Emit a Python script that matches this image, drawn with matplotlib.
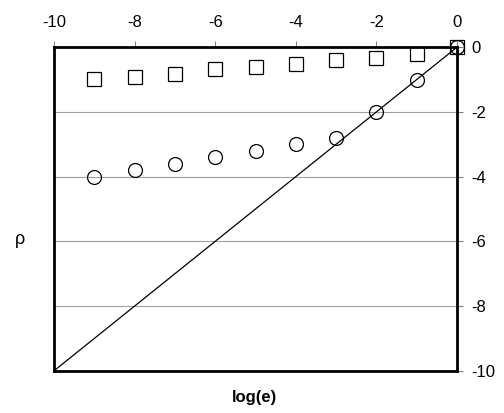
import numpy as np
import matplotlib.pyplot as plt

plt.rcParams['font.family'] = ['Liberation Sans', 'DejaVu Sans']
plt.rcParams['axes.unicode_minus'] = False

# data
x_sq = [-9, -8, -7, -6, -5, -4, -3, -2, -1, 0]
y_sq = [-1.0, -0.93, -0.83, -0.69, -0.61, -0.51, -0.41, -0.33, -0.22, 0.0]
x_ci = [-9, -8, -7, -6, -5, -4, -3, -2, -1, 0]
y_ci = [-4.0, -3.8, -3.61, -3.4, -3.21, -3.0, -2.8, -2.02, -1.02, 0.0]
x_line = [-10, 0]
y_line = [-10, 0]

fig = plt.figure(figsize=(5.04, 4.13), dpi=100)
ax = fig.add_axes([0.107, 0.102, 0.8, 0.784])

for yg in [-2, -4, -6, -8]:
    ax.axhline(yg, color='#a0a0a0', lw=0.8, zorder=0)

ax.plot(x_line, y_line, color='black', lw=0.9, zorder=2)
ax.plot(x_sq, y_sq, 's', ms=10, mfc='none', mec='black', mew=0.9, zorder=3, clip_on=False)
ax.plot(x_ci, y_ci, 'o', ms=10, mfc='none', mec='black', mew=0.9, zorder=3, clip_on=False)

ax.set_xlim(-10, 0)
ax.set_ylim(-10, 0)
ax.set_xticks(np.arange(-10, 1, 2))
ax.set_yticks(np.arange(-10, 1, 2))
ax.xaxis.tick_top()
ax.yaxis.tick_right()
ax.tick_params(direction='out', length=4, width=0.8, color='#808080', labelsize=12, pad=6)
ax.tick_params(axis='x', pad=8)
for s in ax.spines.values():
    s.set_linewidth(2)

fig.text(0.04, 0.42, 'ρ', fontsize=13, ha='center', va='center')
fig.text(0.505, 0.038, 'log(e)', fontsize=12, fontweight='bold', ha='center', va='center')

plt.savefig('out.png', dpi=100)
